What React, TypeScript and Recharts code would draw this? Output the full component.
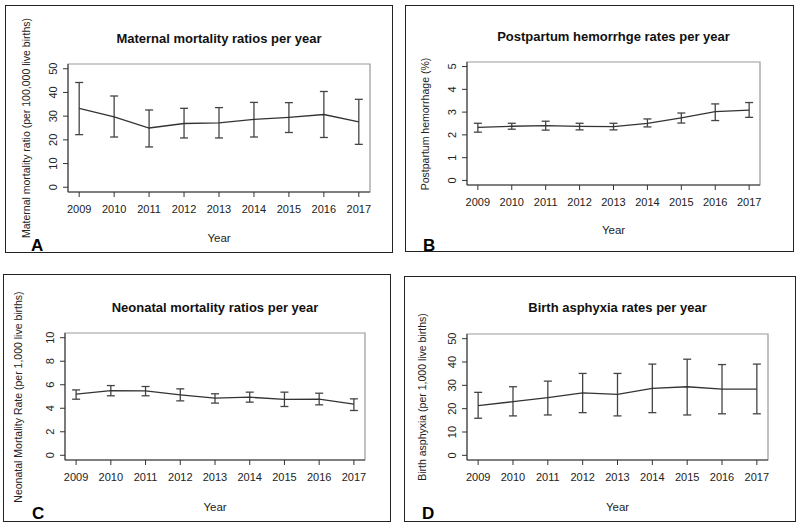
import React from "react";
import { ComposedChart, Line, XAxis, YAxis, ErrorBar, ReferenceArea } from "recharts";

// years shown on every panel
const years = [2009, 2010, 2011, 2012, 2013, 2014, 2015, 2016, 2017];

// A: maternal mortality ratio (per 100,000 live births)
const mmrMean = [33.3, 29.7, 25.0, 26.9, 27.2, 28.6, 29.5, 30.7, 27.6];
const mmrLow = [22.2, 21.2, 17.0, 20.8, 20.8, 21.2, 23.1, 21.0, 18.1];
const mmrHigh = [44.2, 38.5, 32.6, 33.3, 33.6, 35.8, 35.7, 40.4, 37.1];

// B: postpartum hemorrhage (%)
const pphMean = [2.33, 2.38, 2.41, 2.37, 2.36, 2.51, 2.75, 3.02, 3.09];
const pphLow = [2.12, 2.25, 2.21, 2.22, 2.22, 2.35, 2.52, 2.63, 2.77];
const pphHigh = [2.51, 2.51, 2.6, 2.51, 2.51, 2.7, 2.96, 3.36, 3.42];

// C: neonatal mortality rate (per 1,000 live births)
const nmrMean = [5.2, 5.5, 5.48, 5.14, 4.86, 4.94, 4.75, 4.77, 4.35];
const nmrLow = [4.77, 5.06, 5.06, 4.63, 4.44, 4.52, 4.15, 4.29, 3.81];
const nmrHigh = [5.56, 5.93, 5.85, 5.65, 5.23, 5.37, 5.37, 5.28, 4.8];

// D: birth asphyxia (per 1,000 live births)
const baMean = [21.3, 23.0, 24.7, 26.8, 26.1, 28.7, 29.4, 28.4, 28.4];
const baLow = [15.9, 16.9, 17.3, 18.3, 16.9, 18.3, 17.3, 17.8, 17.8];
const baHigh = [27.0, 29.4, 31.8, 35.1, 35.1, 39.1, 41.2, 38.9, 39.1];

const ticks50 = [0, 10, 20, 30, 40, 50];
const ticks5 = [0, 1, 2, 3, 4, 5];
const ticks10 = [0, 2, 4, 6, 8, 10];

const FONT = '"Liberation Sans", Arial, Helvetica, sans-serif';

function buildRows(mean: number[], lo: number[], hi: number[]) {
  return years.map((year, i) => ({
    year,
    value: mean[i],
    err: [mean[i] - lo[i], hi[i] - mean[i]],
  }));
}

// R style: extend the range by 4% on each side
function rPad(min: number, max: number): [number, number] {
  const p = (max - min) * 0.04;
  return [min - p, max + p];
}

const YTick = (props: any) => {
  const { x, y, payload } = props;
  return (
    <text
      transform={`translate(${x - 8},${y}) rotate(-90)`}
      textAnchor="middle"
      dy="0.35em"
      fontSize={11}
      fill="#222"
      fontFamily={FONT}
    >
      {payload.value}
    </text>
  );
};

interface PanelProps {
  box: { l: number; t: number; r: number; b: number };
  plot: { l: number; t: number; r: number; b: number };
  title: string;
  titleY: number;
  ylabel: string;
  ylabelX: number;
  yearY: number;
  letter: string;
  letterX: number;
  letterY: number;
  rows: any[];
  yTicks: number[];
}

function Panel(p: PanelProps) {
  const w = p.box.r - p.box.l;
  const h = p.box.b - p.box.t;
  const yW = 30;
  const xH = 30;
  const xDom = rPad(years[0], years[years.length - 1]);
  const yDom = rPad(p.yTicks[0], p.yTicks[p.yTicks.length - 1]);
  const cx = (p.plot.l + p.plot.r) / 2 - p.box.l;
  const cy = (p.plot.t + p.plot.b) / 2 - p.box.t;
  return (
    <div style={{ position: "absolute", left: p.box.l, top: p.box.t, width: w, height: h }}>
      <div
        style={{
          position: "absolute",
          inset: 0,
          border: "1.5px solid #222",
          boxSizing: "border-box",
        }}
      />
      <ComposedChart
        width={w}
        height={h}
        data={p.rows}
        style={{ position: "absolute", left: 0, top: 0 }}
        margin={{
          top: p.plot.t - p.box.t,
          left: p.plot.l - p.box.l - yW,
          right: p.box.r - p.plot.r,
          bottom: p.box.b - p.plot.b - xH,
        }}
      >
        <XAxis
          dataKey="year"
          type="number"
          domain={xDom}
          ticks={years}
          allowDataOverflow
          height={xH}
          tickSize={5}
          tickMargin={8}
          interval={0}
          stroke="#333"
          tick={{ fontSize: 11, fill: "#222", fontFamily: FONT }}
        />
        <YAxis
          type="number"
          domain={yDom}
          ticks={p.yTicks}
          allowDataOverflow
          width={yW}
          tickSize={5}
          tickMargin={2}
          interval={0}
          stroke="#333"
          tick={<YTick />}
        />
        <ReferenceArea
          x1={xDom[0]}
          x2={xDom[1]}
          y1={yDom[0]}
          y2={yDom[1]}
          fill="none"
          stroke="#999"
          strokeWidth={1.2}
          ifOverflow="extendDomain"
        />
        <Line
          dataKey="value"
          type="linear"
          stroke="#333"
          strokeWidth={1.3}
          dot={false}
          isAnimationActive={false}
        >
          <ErrorBar dataKey="err" width={4} stroke="#444" strokeWidth={1.3} direction="y" />
        </Line>
      </ComposedChart>
      <div
        style={{
          position: "absolute",
          left: cx - 200,
          width: 400,
          top: p.titleY - p.box.t - 8,
          textAlign: "center",
          fontFamily: FONT,
          fontWeight: "bold",
          fontSize: 13,
          color: "#111",
          lineHeight: "16px",
        }}
      >
        {p.title}
      </div>
      <div
        style={{
          position: "absolute",
          left: p.ylabelX - p.box.l - 150,
          top: cy - 7,
          width: 300,
          textAlign: "center",
          transform: "rotate(-90deg)",
          fontFamily: FONT,
          fontSize: 10.5,
          color: "#222",
          lineHeight: "14px",
        }}
      >
        {p.ylabel}
      </div>
      <div
        style={{
          position: "absolute",
          left: cx - 50,
          width: 100,
          top: p.yearY - p.box.t - 7,
          textAlign: "center",
          fontFamily: FONT,
          fontSize: 11.5,
          color: "#222",
          lineHeight: "14px",
        }}
      >
        Year
      </div>
      <div
        style={{
          position: "absolute",
          left: p.letterX - p.box.l,
          top: p.letterY - p.box.t - 9,
          fontFamily: FONT,
          fontWeight: "bold",
          fontSize: 17,
          color: "#000",
          lineHeight: "20px",
        }}
      >
        {p.letter}
      </div>
    </div>
  );
}

export default function App() {
  return (
    <div
      style={{
        position: "absolute",
        left: 0,
        top: 0,
        width: 800,
        height: 530,
        background: "#fff",
        overflow: "hidden",
      }}
    >
      <Panel
        box={{ l: 5, t: 5, r: 393, b: 253 }}
        plot={{ l: 68, t: 64, r: 370, b: 192 }}
        title="Maternal mortality ratios per year"
        titleY={39}
        ylabel="Maternal mortality ratio (per 100,000 live births)"
        ylabelX={26}
        yearY={238}
        letter="A"
        letterX={31}
        letterY={245}
        rows={buildRows(mmrMean, mmrLow, mmrHigh)}
        yTicks={ticks50}
      />
      <Panel
        box={{ l: 405, t: 5, r: 794, b: 252 }}
        plot={{ l: 467, t: 62, r: 760, b: 185 }}
        title="Postpartum hemorrhge rates per year"
        titleY={37}
        ylabel="Postpartum hemorrhage (%)"
        ylabelX={425}
        yearY={230}
        letter="B"
        letterX={423}
        letterY={245}
        rows={buildRows(pphMean, pphLow, pphHigh)}
        yTicks={ticks5}
      />
      <Panel
        box={{ l: 3, t: 274, r: 391, b: 522 }}
        plot={{ l: 65, t: 333, r: 365, b: 460 }}
        title="Neonatal mortality ratios per year"
        titleY={308}
        ylabel="Neonatal Mortality Rate (per 1,000 live births)"
        ylabelX={18}
        yearY={507}
        letter="C"
        letterX={32}
        letterY={513}
        rows={buildRows(nmrMean, nmrLow, nmrHigh)}
        yTicks={ticks10}
      />
      <Panel
        box={{ l: 404, t: 276, r: 796, b: 522 }}
        plot={{ l: 467, t: 334, r: 768, b: 460 }}
        title="Birth asphyxia rates per year"
        titleY={308}
        ylabel="Birth asphyxia (per 1,000 live births)"
        ylabelX={422}
        yearY={507}
        letter="D"
        letterX={422}
        letterY={513}
        rows={buildRows(baMean, baLow, baHigh)}
        yTicks={ticks50}
      />
    </div>
  );
}
